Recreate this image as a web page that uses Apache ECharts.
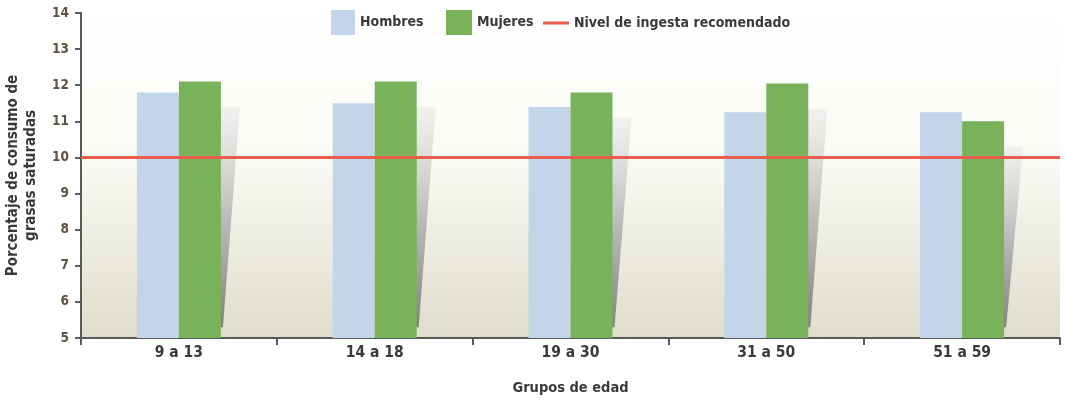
<!DOCTYPE html>
<html>
<head>
<meta charset="utf-8">
<script src="https://cdn.jsdelivr.net/npm/echarts@6/dist/echarts.min.js"></script>
<style>
  html, body { margin: 0; padding: 0; background: #fff; }
  #chart { width: 1066px; height: 401px; }
</style>
</head>
<body>
<div id="chart"></div>
<script>
// ========== 数据 ==========
const categories = ['9 a 13', '14 a 18', '19 a 30', '31 a 50', '51 a 59'];
const hombres = [11.8, 11.5, 11.4, 11.25, 11.25];
const mujeres = [12.1, 12.1, 11.8, 12.05, 11.0];
const nivelRecomendado = 10;
const yTicks = [5, 6, 7, 8, 9, 10, 11, 12, 13, 14];

// ========== 样式 ==========
const COLORS = {
    blue: '#c3d5e8',
    green: '#78b35a',
    red: '#e95d4c',
    axis: '#5a5a5a',
    text: '#3a3a3a',
    tick: '#5e5140'
};
const FONT = '"DejaVu Sans Condensed", "DejaVu Sans", sans-serif';
const BAR_W = 42;

const chart = echarts.init(document.getElementById('chart'));

// 阴影（装饰）：位于绿色柱右侧
function renderShadow(params, api) {
    const idx = api.value(0);
    const val = api.value(1);
    const center = api.coord([idx, val]);
    const xRight = center[0] + BAR_W;
    const top = api.coord([idx, val - 0.7])[1];
    const bottom = api.coord([idx, 5.3])[1];
    return {
        type: 'polygon',
        shape: { points: [[xRight - 1, top], [xRight + 19, top], [xRight + 2, bottom], [xRight - 1, bottom]] },
        style: {
            fill: new echarts.graphic.LinearGradient(0, 0, 0, 1, [
                { offset: 0, color: 'rgba(230,230,230,0.5)' },
                { offset: 0.5, color: 'rgba(170,170,170,0.75)' },
                { offset: 1, color: 'rgba(120,120,120,0.9)' }
            ])
        },
        z2: 0
    };
}

// 图例：三个独立组件，便于定位
const legendText = { fontSize: 14, fontWeight: 'bold', color: COLORS.text, fontFamily: FONT };
function legendAt(left, top, item, w, h) {
    return {
        top: top, left: left,
        padding: 0,
        itemWidth: w, itemHeight: h,
        textStyle: legendText,
        data: [item]
    };
}

const option = {
    animation: false,
    textStyle: { fontFamily: FONT },
    legend: [
        legendAt(331, 10, { name: 'Hombres', icon: 'rect' }, 24, 25),
        legendAt(446, 10, { name: 'Mujeres', icon: 'rect' }, 26, 25),
        legendAt(543, 16, { name: 'Nivel de ingesta recomendado', icon: 'rect' }, 26, 3)
    ],
    grid: {
        left: 81, right: 6, top: 13, bottom: 63,
        outerBoundsMode: 'none',
        show: true,
        borderWidth: 0,
        backgroundColor: new echarts.graphic.LinearGradient(0, 0, 0, 1, [
            { offset: 0, color: '#ffffff' },
            { offset: 0.45, color: '#fafaf5' },
            { offset: 1, color: '#dfddcb' }
        ])
    },
    xAxis: {
        type: 'category',
        data: categories,
        name: 'Grupos de edad',
        nameLocation: 'middle',
        nameGap: 43,
        nameTextStyle: { fontSize: 14.5, fontWeight: 'bold', color: COLORS.text, fontFamily: FONT },
        axisLine: { lineStyle: { color: COLORS.axis, width: 2 } },
        axisTick: { show: true, length: 7, lineStyle: { color: COLORS.axis, width: 2 } },
        axisLabel: { fontSize: 15.5, fontWeight: 'bold', color: COLORS.text, margin: 7, fontFamily: FONT }
    },
    yAxis: {
        type: 'value',
        min: yTicks[0],
        max: yTicks[yTicks.length - 1],
        interval: 1,
        name: 'Porcentaje de consumo de\ngrasas saturadas',
        nameLocation: 'middle',
        nameGap: 41,
        nameRotate: 90,
        nameTextStyle: { fontSize: 15, fontWeight: 'bold', color: COLORS.text, lineHeight: 18, fontFamily: FONT },
        axisLine: { show: true, lineStyle: { color: COLORS.axis, width: 2 } },
        axisTick: { show: true, length: 6, lineStyle: { color: COLORS.axis, width: 2 } },
        axisLabel: { fontSize: 13.5, fontWeight: 'bold', color: COLORS.tick, margin: 12, fontFamily: FONT },
        splitLine: { show: false }
    },
    series: [
        {
            name: 'Sombra',
            type: 'custom',
            renderItem: renderShadow,
            data: mujeres.map((v, i) => [i, v]),
            z: 1,
            silent: true
        },
        {
            name: 'Hombres',
            type: 'bar',
            data: hombres,
            barWidth: BAR_W,
            barGap: '0%',
            itemStyle: { color: COLORS.blue },
            z: 2
        },
        {
            name: 'Mujeres',
            type: 'bar',
            data: mujeres,
            barWidth: BAR_W,
            itemStyle: { color: COLORS.green },
            z: 2
        },
        {
            name: 'Nivel de ingesta recomendado',
            type: 'line',
            data: [],
            symbol: 'none',
            lineStyle: { color: COLORS.red, width: 3 },
            itemStyle: { color: COLORS.red },
            markLine: {
                silent: true,
                symbol: 'none',
                label: { show: false },
                lineStyle: { color: COLORS.red, width: 3, type: 'solid' },
                data: [{ yAxis: nivelRecomendado }]
            },
            z: 5
        }
    ]
};

chart.setOption(option);
</script>
</body>
</html>
